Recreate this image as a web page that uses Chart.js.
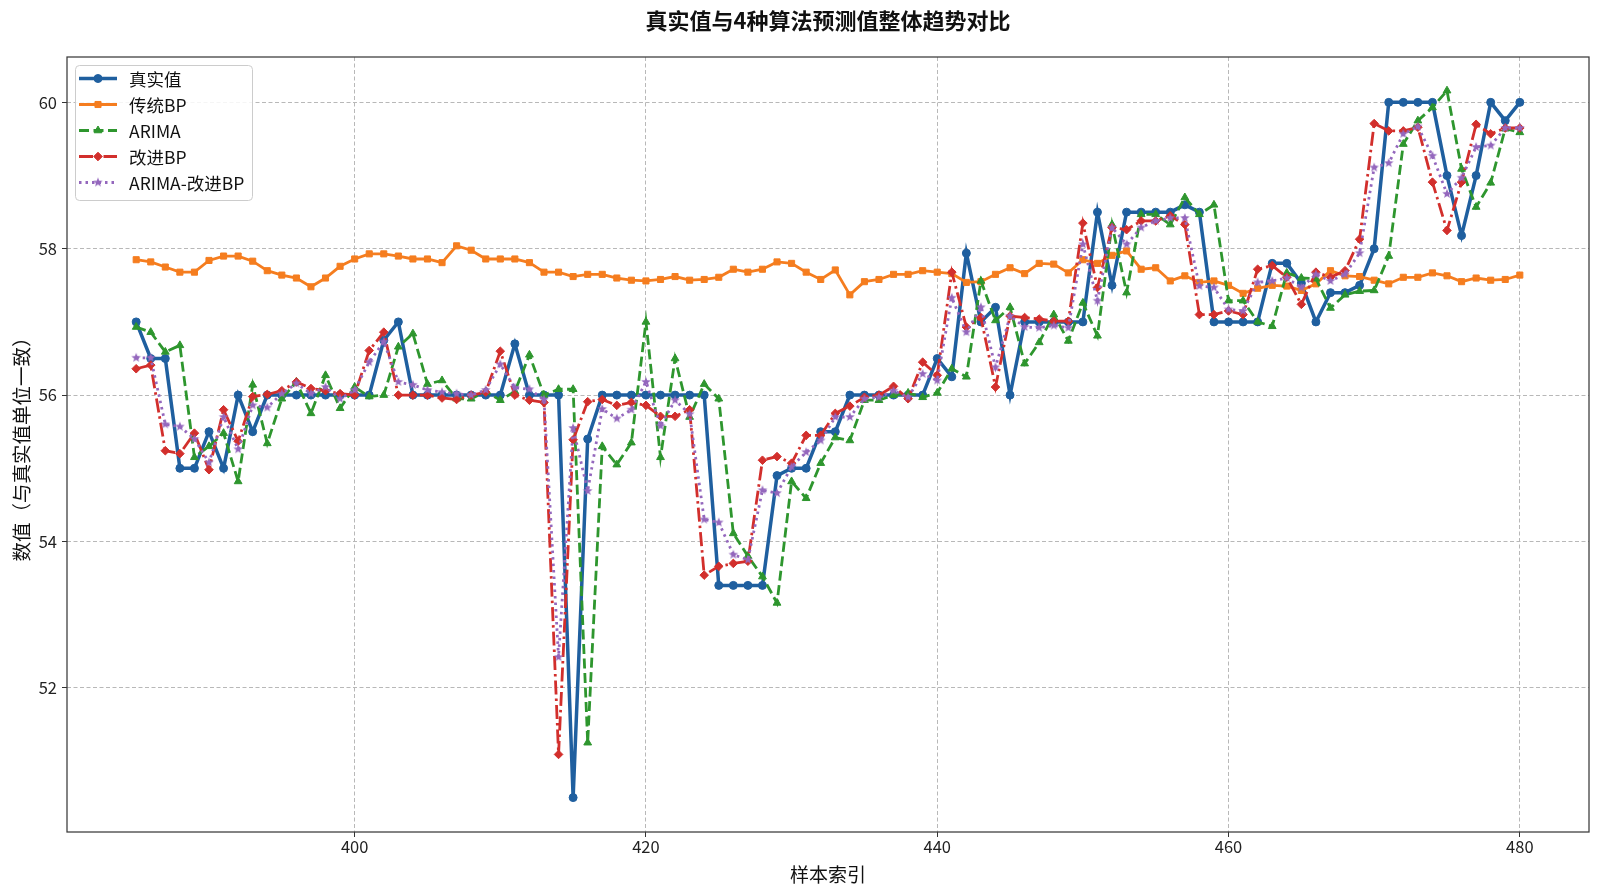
<!DOCTYPE html>
<html>
<head>
<meta charset="utf-8">
<title>真实值与4种算法预测值整体趋势对比</title>
<script src="https://cdn.jsdelivr.net/npm/chart.js@4.4.1/dist/chart.umd.min.js"></script>
<style>
  html, body { margin: 0; padding: 0; background: #fff; }
  canvas { display: block; }
</style>
</head>
<body>
<canvas id="mycanvas" width="1600" height="896"></canvas>
<script>
// sample index (x axis)
var sampleIdx = [385,386,387,388,389,390,391,392,393,394,395,396,397,398,399,400,
  401,402,403,404,405,406,407,408,409,410,411,412,413,414,415,416,417,418,419,420,
  421,422,423,424,425,426,427,428,429,430,431,432,433,434,435,436,437,438,439,440,
  441,442,443,444,445,446,447,448,449,450,451,452,453,454,455,456,457,458,459,460,
  461,462,463,464,465,466,467,468,469,470,471,472,473,474,475,476,477,478,479,480];

var trueVals = [57.0,56.5,56.5,55.0,55.0,55.5,55.0,56.0,55.5,56.0,56.0,56.0,56.0,56.0,56.0,56.0,
  56.0,56.75,57.0,56.0,56.0,56.0,56.0,56.0,56.0,56.0,56.7,56.0,56.0,56.0,50.5,55.4,56.0,56.0,56.0,56.0,
  56.0,56.0,56.0,56.0,53.4,53.4,53.4,53.4,54.9,55.0,55.0,55.5,55.5,56.0,56.0,56.0,56.0,56.0,56.0,56.5,
  56.25,57.94,57.0,57.2,56.0,57.0,57.0,57.0,57.0,57.0,58.5,57.5,58.5,58.5,58.5,58.5,58.6,58.5,57.0,57.0,
  57.0,57.0,57.8,57.8,57.53,57.0,57.4,57.4,57.5,58.0,60.0,60.0,60.0,60.0,59.0,58.18,59.0,60.0,59.75,60.0];

var bpVals = [57.85,57.82,57.75,57.68,57.68,57.84,57.9,57.9,57.83,57.7,57.64,57.6,57.48,57.6,57.76,57.86,
  57.93,57.93,57.9,57.86,57.86,57.81,58.04,57.98,57.86,57.86,57.86,57.81,57.68,57.68,57.62,57.65,57.65,57.6,57.57,57.56,
  57.58,57.62,57.57,57.58,57.61,57.72,57.68,57.72,57.82,57.8,57.68,57.58,57.71,57.37,57.55,57.58,57.65,57.65,57.7,57.68,
  57.66,57.54,57.55,57.65,57.74,57.66,57.8,57.79,57.67,57.85,57.8,57.91,57.97,57.72,57.74,57.56,57.63,57.54,57.56,57.5,
  57.39,57.46,57.5,57.49,57.43,57.52,57.7,57.63,57.62,57.57,57.52,57.61,57.61,57.67,57.63,57.55,57.6,57.57,57.58,57.64];

var arimaVals = [56.93,56.86,56.59,56.68,55.15,55.3,55.48,54.82,56.14,55.34,55.95,56.18,55.75,56.27,55.82,56.11,
  55.98,56.0,56.66,56.84,56.15,56.2,55.95,55.95,56.05,55.93,56.05,56.55,56.0,56.08,56.08,51.25,55.3,55.05,55.35,57.0,
  55.15,56.5,55.7,56.15,55.95,54.11,53.8,53.52,53.16,54.82,54.59,55.07,55.42,55.38,55.93,55.93,56.0,56.03,55.97,56.03,
  56.36,56.25,57.56,57.02,57.2,56.43,56.72,57.1,56.74,57.26,56.81,58.33,57.4,58.47,58.47,58.33,58.7,58.47,58.6,57.29,
  57.29,57.0,56.94,57.67,57.6,57.59,57.19,57.37,57.42,57.43,57.9,59.43,59.75,59.93,60.16,59.09,58.57,58.9,59.64,59.59];

var impBpVals = [56.36,56.41,55.24,55.2,55.48,54.98,55.8,55.37,55.98,56.01,56.06,56.18,56.09,56.06,56.02,56.0,
  56.61,56.86,56.0,56.0,56.0,55.96,55.94,56.0,56.04,56.6,56.0,55.93,55.9,51.09,55.39,55.91,55.94,55.86,55.9,55.86,
  55.71,55.71,55.8,53.54,53.66,53.7,53.73,55.11,55.16,55.07,55.45,55.45,55.75,55.85,55.97,56.0,56.12,55.95,56.45,56.27,
  57.68,56.93,57.06,56.11,57.08,57.06,57.04,57.01,57.01,58.35,57.47,58.29,58.26,58.38,58.38,58.45,58.33,57.1,57.1,57.15,
  57.1,57.72,57.77,57.61,57.24,57.68,57.61,57.7,58.13,59.71,59.61,59.61,59.66,58.91,58.25,58.91,59.7,59.57,59.65,59.65];

var hybridVals = [56.51,56.51,55.6,55.57,55.4,55.08,55.7,55.26,55.86,55.83,56.02,56.16,56.02,56.11,55.95,56.07,
  56.45,56.73,56.18,56.14,56.07,56.04,56.02,56.0,56.07,56.42,56.1,56.08,55.94,52.42,55.55,54.69,55.81,55.68,55.8,56.18,
  55.58,55.93,55.74,54.3,54.26,53.82,53.75,54.7,54.66,55.02,55.22,55.38,55.7,55.7,55.95,55.97,56.06,55.97,56.29,56.2,
  57.33,56.86,57.2,56.38,57.08,56.93,56.92,56.95,56.92,58.06,57.29,58.29,58.06,58.29,58.38,58.42,58.42,57.49,57.47,57.17,
  57.15,57.54,57.56,57.6,57.47,57.65,57.56,57.65,57.94,59.11,59.17,59.57,59.67,59.27,58.75,58.97,59.39,59.41,59.65,59.65];

var xTicks = [400, 420, 440, 460, 480];
var yTicks = [52, 54, 56, 58, 60];

var FONT = "'Noto Sans CJK SC', 'Noto Sans', sans-serif";

function toPoints(vals) {
  return sampleIdx.map(function(x, i) { return {x: x, y: vals[i]}; });
}

// filled star marker like matplotlib '*'
function starMarker(color, r) {
  var c = document.createElement('canvas');
  var s = Math.ceil(r * 2 + 2);
  c.width = s; c.height = s;
  var g = c.getContext('2d');
  g.fillStyle = color;
  g.beginPath();
  for (var k = 0; k < 10; k++) {
    var rad = k % 2 === 0 ? r : r * 0.42;
    var a = -Math.PI / 2 + k * Math.PI / 5;
    g.lineTo(s / 2 + rad * Math.cos(a), s / 2 + rad * Math.sin(a));
  }
  g.closePath();
  g.fill();
  return c;
}

function series(label, vals, color, width, dash, style, radius, order) {
  return {
    label: label,
    data: toPoints(vals),
    borderColor: color,
    backgroundColor: color,
    borderWidth: width,
    borderDash: dash,
    pointStyle: style,
    pointRadius: radius,
    pointBackgroundColor: color,
    pointBorderColor: color,
    pointBorderWidth: 1,
    tension: 0,
    order: order
  };
}

var purpleStar = starMarker('#9467bd', 5);

var chartdata = {
  datasets: [
    series('真实值', trueVals, '#1f5f9f', 3.5, [], 'circle', 4, 4),
    series('传统BP', bpVals, '#f57d1f', 2.8, [], 'rect', 4.3, 3),
    series('ARIMA', arimaVals, '#2e962e', 2.8, [10, 4.5], 'triangle', 4.5, 2),
    series('改进BP', impBpVals, '#d22f2c', 2.8, [14, 4, 2.5, 4], 'rectRot', 4.3, 1),
    series('ARIMA-改进BP', hybridVals, '#9467bd', 2.8, [2.5, 4], purpleStar, 5, 0)
  ]
};

// legend drawn inside the plot, upper left, matplotlib style
var insideLegend = {
  id: 'insideLegend',
  afterDraw: function(chart) {
    var ctx = chart.ctx;
    var area = chart.chartArea;
    var bx = area.left + 8, by = area.top + 8, bw = 177, bh = 135;
    ctx.save();
    ctx.beginPath();
    ctx.roundRect(bx + 0.5, by + 0.5, bw, bh, 4);
    ctx.fillStyle = 'rgba(255,255,255,0.85)';
    ctx.fill();
    ctx.strokeStyle = '#cccccc';
    ctx.lineWidth = 1;
    ctx.stroke();
    chart.data.datasets.forEach(function(ds, i) {
      var y = by + 13.5 + i * 26;
      ctx.strokeStyle = ds.borderColor;
      ctx.lineWidth = ds.borderWidth;
      ctx.setLineDash(ds.borderDash);
      ctx.beginPath();
      ctx.moveTo(bx + 4, y);
      ctx.lineTo(bx + 42, y);
      ctx.stroke();
      ctx.setLineDash([]);
      ctx.fillStyle = ds.borderColor;
      ctx.lineWidth = 1;
      Chart.helpers.drawPoint(ctx, {pointStyle: ds.pointStyle, radius: ds.pointRadius, borderWidth: 1, rotation: 0}, bx + 23, y);
      ctx.fillStyle = '#111';
      ctx.font = '17.5px ' + FONT;
      ctx.textBaseline = 'middle';
      ctx.textAlign = 'left';
      ctx.fillText(ds.label, bx + 54, y + 1);
    });
    ctx.restore();
  }
};

// full box frame round the plot
var plotFrame = {
  id: 'plotFrame',
  afterDatasetsDraw: function(chart) {
    var a = chart.chartArea;
    var ctx = chart.ctx;
    ctx.save();
    ctx.strokeStyle = '#3a3a3a';
    ctx.lineWidth = 1.25;
    ctx.strokeRect(a.left, a.top, a.right - a.left, a.bottom - a.top);
    ctx.restore();
  }
};

var ctx = document.getElementById('mycanvas');

var lineGraph = new Chart(ctx, {
  type: 'line',
  data: chartdata,
  plugins: [plotFrame, insideLegend],
  options: {
    responsive: false,
    animation: false,
    devicePixelRatio: 1,
    layout: { padding: { left: 0, right: 11, top: 0, bottom: 0 } },
    plugins: {
      legend: { display: false },
      tooltip: { enabled: false },
      title: {
        display: true,
        fullSize: false,
        text: '真实值与4种算法预测值整体趋势对比',
        color: '#111',
        font: { family: FONT, size: 22, weight: 'bold' },
        padding: { top: 7, bottom: 23.6 }
      }
    },
    scales: {
      x: {
        type: 'linear',
        min: 380.25,
        max: 484.75,
        afterBuildTicks: function(scale) {
          scale.ticks = xTicks.map(function(v) { return {value: v}; });
        },
        afterFit: function(scale) { scale.height = 64; },
        grid: { color: '#b8b8b8', lineWidth: 1, tickLength: 5, tickColor: '#333', tickWidth: 1, tickBorderDash: [] },
        border: { display: false, dash: [4, 2.5] },
        ticks: { color: '#222', padding: 0, font: { family: FONT, size: 16.5 }, maxRotation: 0 },
        title: { display: true, text: '样本索引', color: '#111', font: { family: FONT, size: 19 }, padding: { top: 0, bottom: 10 } }
      },
      y: {
        min: 50.03,
        max: 60.62,
        afterBuildTicks: function(scale) {
          scale.ticks = yTicks.map(function(v) { return {value: v}; });
        },
        afterFit: function(scale) { scale.width = 67; },
        grid: { color: '#b8b8b8', lineWidth: 1, tickLength: 5, tickColor: '#333', tickWidth: 1, tickBorderDash: [] },
        border: { display: false, dash: [4, 2.5] },
        ticks: { color: '#222', padding: 5, font: { family: FONT, size: 16.5 } },
        title: { display: true, text: '数值（与真实值单位一致）', color: '#111', font: { family: FONT, size: 19.5 }, padding: { top: 10, bottom: 0 } }
      }
    }
  }
});
</script>
</body>
</html>
